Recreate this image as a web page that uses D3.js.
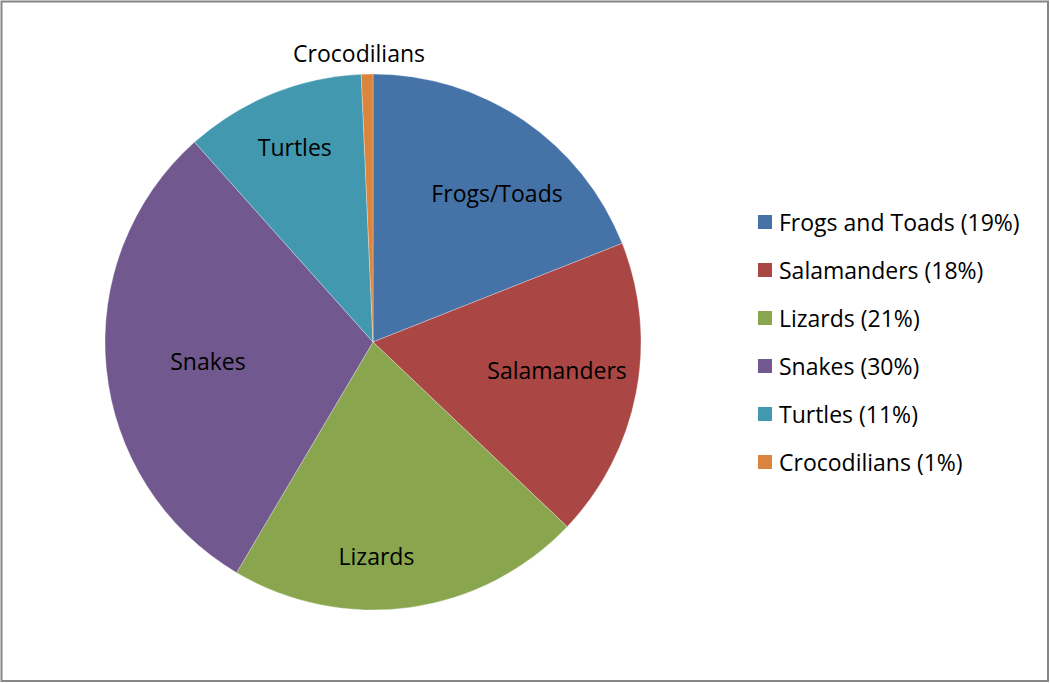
<!DOCTYPE html>
<html>
<head>
<meta charset="utf-8">
<script src="https://cdn.jsdelivr.net/npm/d3@7"></script>
<style>
  html, body { margin: 0; padding: 0; background: #fff; }
  svg { display: block; }
  text { font-family: "Open Sans", Lato, sans-serif; fill: #000; }
</style>
</head>
<body>
<svg id="chart" width="1050" height="683"></svg>
<script>
// ---- data ----
const categories = ["Frogs and Toads", "Salamanders", "Lizards", "Snakes", "Turtles", "Crocodilians"];
const sliceLabels = ["Frogs/Toads", "Salamanders", "Lizards", "Snakes", "Turtles", "Crocodilians"];
const values = [19.0, 18.1, 21.4, 29.9, 10.9, 0.7];
const legendPercents = ["19%", "18%", "21%", "30%", "11%", "1%"];
const colors = ["#4572A7", "#AA4643", "#89A54E", "#71588F", "#4198AF", "#DB843D"];

// ---- layout (style, not data) ----
const W = 1050, H = 683;
const cx = 373, cy = 342, R = 268;
const fontSize = 23;
// label placement: radial fraction and angular nudge (degrees) for each slice
const labelRadius = [0.723, 0.695, 0.80, 0.62, 0.785, 1.08];
const labelNudge = [5.6, -2.2, 7, -1, 0.3, -1.5];

const svg = d3.select("#chart");

svg.append("rect")
  .attr("x", 1.5).attr("y", 1.5)
  .attr("width", W - 3.5).attr("height", H - 3.5)
  .attr("fill", "#fff")
  .attr("stroke", "#868686")
  .attr("stroke-width", 2);

const pie = d3.pie().sort(null).value(d => d);
const arcs = pie(values);
const arc = d3.arc().innerRadius(0).outerRadius(R);

const g = svg.append("g").attr("transform", `translate(${cx},${cy})`);

g.selectAll("path.slice")
  .data(arcs)
  .join("path")
  .attr("class", "slice")
  .attr("d", arc)
  .attr("fill", (d, i) => colors[i])
  .attr("stroke", "rgba(255,255,255,0.5)")
  .attr("stroke-width", 0.6);

g.selectAll("text.lbl")
  .data(arcs)
  .join("text")
  .attr("class", "lbl")
  .attr("text-anchor", "middle")
  .attr("dominant-baseline", "central")
  .attr("font-size", fontSize)
  .attr("x", (d, i) => {
    const a = (d.startAngle + d.endAngle) / 2 + labelNudge[i] * Math.PI / 180;
    return Math.sin(a) * R * labelRadius[i];
  })
  .attr("y", (d, i) => {
    const a = (d.startAngle + d.endAngle) / 2 + labelNudge[i] * Math.PI / 180;
    return -Math.cos(a) * R * labelRadius[i];
  })
  .text((d, i) => sliceLabels[i]);

// ---- legend ----
const legendY = d3.scalePoint().domain(categories).range([222, 462]);
const lg = svg.append("g");
const items = lg.selectAll("g.item")
  .data(categories)
  .join("g")
  .attr("class", "item")
  .attr("transform", d => `translate(758,${legendY(d)})`);
items.append("rect")
  .attr("x", 0).attr("y", -7)
  .attr("width", 14).attr("height", 14)
  .attr("fill", (d, i) => colors[i]);
items.append("text")
  .attr("x", 21).attr("y", 0)
  .attr("dominant-baseline", "central")
  .attr("font-size", fontSize)
  .text((d, i) => `${d} (${legendPercents[i]})`);
</script>
</body>
</html>
